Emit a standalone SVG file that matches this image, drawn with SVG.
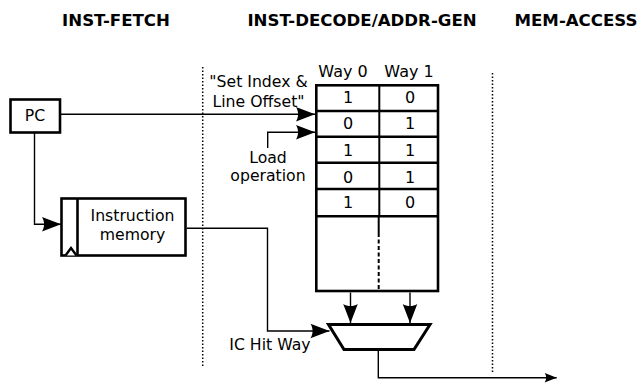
<svg xmlns="http://www.w3.org/2000/svg" width="642" height="383" viewBox="0 0 642 383">
  <defs>
    <style>
      text { font-family: "DejaVu Sans", "Liberation Sans", sans-serif; fill: #000; }
      .title { font-size: 16.6px; font-weight: bold; text-anchor: middle; }
      .lbl { font-size: 15.7px; }
      .mid { text-anchor: middle; }
      .cell { font-size: 16px; text-anchor: middle; }
      .box { fill: #fff; stroke: #000; stroke-width: 2.6; }
      .rule { fill: none; stroke: #000; stroke-width: 2.6; }
      .wire { fill: none; stroke: #000; stroke-width: 1.4; }
      .stage { fill: none; stroke: #000; stroke-width: 1.5; stroke-dasharray: 1.5 2; }
    </style>
    <marker id="arrow" viewBox="-20 -8 21 16" refX="0" refY="0" markerWidth="21" markerHeight="16" markerUnits="userSpaceOnUse" orient="auto">
      <path d="M0,0 L-19,-7.3 C-16.2,-2.8 -16.2,2.8 -19,7.3 Z" fill="#000"/>
    </marker>
    <marker id="arrow-sm" viewBox="-13 -5 14 10" refX="0" refY="0" markerWidth="14" markerHeight="10" markerUnits="userSpaceOnUse" orient="auto">
      <path d="M0,0 L-12,-4.7 C-10,-1.6 -10,1.6 -12,4.7 Z" fill="#000"/>
    </marker>
  </defs>

  <rect width="642" height="383" fill="#fff"/>

  <!-- pipeline stage headings -->
  <g id="stages">
    <text class="title" x="116" y="26">INST-FETCH</text>
    <text class="title" x="362" y="26">INST-DECODE/ADDR-GEN</text>
    <text class="title" x="576" y="26">MEM-ACCESS</text>
    <line class="stage" x1="202.7" y1="67" x2="202.7" y2="366"/>
    <line class="stage" x1="492.5" y1="73" x2="492.5" y2="372"/>
  </g>

  <!-- program counter -->
  <g id="pc">
    <rect class="box" x="10.5" y="99.5" width="49.5" height="33"/>
    <text class="lbl mid" x="35" y="120.7">PC</text>
  </g>

  <!-- instruction memory with clock input -->
  <g id="instruction-memory">
    <rect class="box" x="61.5" y="198.5" width="124" height="57"/>
    <line class="rule" x1="77.5" y1="198.5" x2="77.5" y2="255.5"/>
    <polyline points="65.5,255.5 71,248 76.5,255.5" fill="#fff" stroke="#000" stroke-width="2.4"/>
    <text class="lbl mid" x="132.5" y="221">Instruction</text>
    <text class="lbl mid" x="132.5" y="240">memory</text>
  </g>

  <!-- way-prediction table -->
  <g id="way-table">
    <text class="cell" x="343" y="77.3">Way 0</text>
    <text class="cell" x="409" y="77.3">Way 1</text>
    <rect class="box" x="316.3" y="85.3" width="121.7" height="205.7"/>
    <line class="rule" x1="316.3" y1="111" x2="438" y2="111"/>
    <line class="rule" x1="316.3" y1="136.7" x2="438" y2="136.7"/>
    <line class="rule" x1="316.3" y1="162.7" x2="438" y2="162.7"/>
    <line class="rule" x1="316.3" y1="189" x2="438" y2="189"/>
    <line class="rule" x1="316.3" y1="216.3" x2="438" y2="216.3"/>
    <line x1="379.3" y1="85.3" x2="379.3" y2="216.3" stroke="#000" stroke-width="2"/>
    <line x1="378.7" y1="216.3" x2="378.7" y2="233" stroke="#000" stroke-width="2"/>
    <line x1="378.7" y1="233" x2="378.7" y2="290" stroke="#000" stroke-width="2" stroke-dasharray="4 2.5"/>
    <text class="cell" x="348" y="103.3">1</text>
    <text class="cell" x="410" y="103.3">0</text>
    <text class="cell" x="348" y="129.3">0</text>
    <text class="cell" x="410" y="129.3">1</text>
    <text class="cell" x="348" y="156">1</text>
    <text class="cell" x="410" y="156">1</text>
    <text class="cell" x="348" y="182.5">0</text>
    <text class="cell" x="410" y="182.5">1</text>
    <text class="cell" x="348" y="208.3">1</text>
    <text class="cell" x="410" y="208.3">0</text>
  </g>

  <!-- way-select multiplexer -->
  <g id="mux">
    <polygon points="328.5,324.5 430,324.5 414,349.5 344,349.5" fill="#fff" stroke="#000" stroke-width="3"/>
  </g>

  <!-- signal labels -->
  <g id="labels">
    <text class="lbl mid" x="258.5" y="87.3">"Set Index &amp;</text>
    <text class="lbl mid" x="258.5" y="106.7">Line Offset"</text>
    <text class="lbl mid" x="268" y="163">Load</text>
    <text class="lbl mid" x="268" y="181">operation</text>
    <text class="lbl" x="229.3" y="349.5">IC Hit Way</text>
  </g>

  <!-- connectors -->
  <g id="connectors">
    <path class="wire" d="M61,114.3 H315" marker-end="url(#arrow)"/>
    <path class="wire" d="M34.5,133 V224.3 H61" marker-end="url(#arrow)"/>
    <path class="wire" d="M267.7,148 V132.3 H315" marker-end="url(#arrow)"/>
    <path class="wire" d="M186.7,228.3 H267.5 V331 H329.5" marker-end="url(#arrow)"/>
    <path class="wire" d="M350.5,292.5 V323" marker-end="url(#arrow)"/>
    <path class="wire" d="M410,292.5 V323" marker-end="url(#arrow)"/>
    <path class="wire" d="M378.3,350.5 V377.7 H556.7" marker-end="url(#arrow-sm)"/>
  </g>
</svg>
